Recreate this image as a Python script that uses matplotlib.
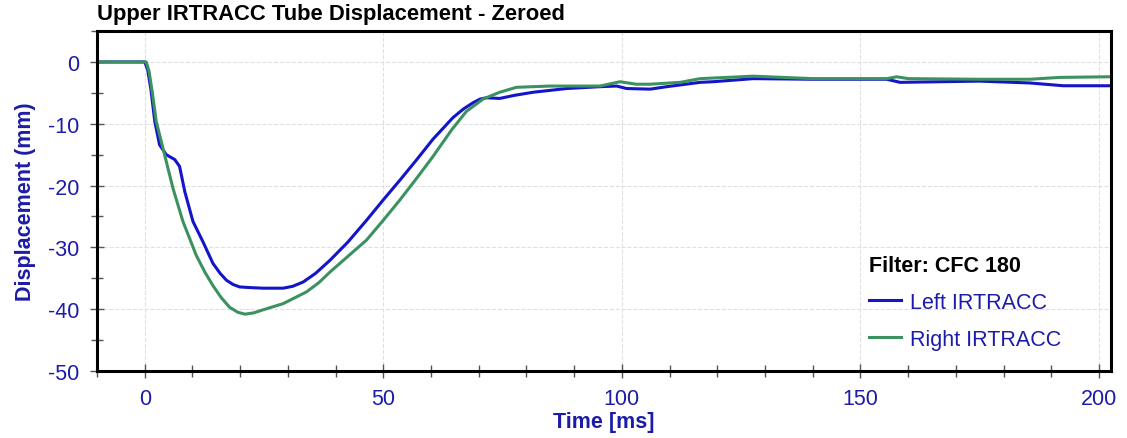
import matplotlib.pyplot as plt
from matplotlib.ticker import MultipleLocator

plt.rcParams['font.family'] = ['Liberation Sans', 'DejaVu Sans']
plt.rcParams['axes.unicode_minus'] = False

# Left IRTRACC (blue)
left_t = [-10, 0, 0.6, 1.3, 2.1, 3.1, 4.5, 6.3, 7.3, 8.4, 10.1, 12.2, 14.3, 15.8, 17.1,
          18.5, 19.9, 22.0, 24.8, 29, 31.0, 33.2, 35.8, 38.8, 42.5, 46.5, 50.0, 53.5,
          57.0, 60.4, 64.6, 66.8, 68.8, 70.3, 71.6, 74.4, 77.5, 81.4, 88.4, 95.4, 98.9,
          101, 105.9, 109.4, 116.4, 119.1, 127.5, 140.1, 155.5, 158.3, 175, 185.5,
          192.5, 202]
left_v = [0, 0, -1.2, -4.5, -9.6, -13.4, -15.0, -15.8, -16.9, -21.0, -25.8, -29.1,
          -32.6, -34.2, -35.3, -36.0, -36.4, -36.5, -36.6, -36.6, -36.3, -35.6, -34.2,
          -32.1, -29.2, -25.6, -22.3, -19.1, -15.8, -12.5, -9.0, -7.6, -6.6, -6.0,
          -5.8, -5.9, -5.4, -4.9, -4.3, -4.0, -3.9, -4.3, -4.4, -4.0, -3.3, -3.2, -2.7,
          -2.8, -2.8, -3.3, -3.1, -3.4, -3.85, -3.85]

# Right IRTRACC (green)
right_t = [-10, 0.3, 0.9, 1.6, 2.4, 3.8, 5.9, 8.0, 10.8, 12.6, 14.3, 16.0, 17.8, 19.5,
           21, 22.8, 24.8, 29, 33.9, 36.5, 38.8, 42.5, 46.5, 50.0, 53.5, 57.0, 60.4,
           64.3, 67.4, 70.9, 74.4, 77.9, 84.9, 95.4, 99.6, 103, 105.9, 112.2, 116.4,
           127.5, 140.1, 155.5, 157.6, 160, 175, 185.5, 191.8, 202]
right_v = [0, 0, -1.5, -5.0, -9.6, -13.9, -20.4, -25.8, -31.3, -34.0, -36.2, -38.1,
           -39.7, -40.5, -40.8, -40.6, -40.1, -39.1, -37.2, -35.7, -34.0, -31.5, -28.8,
           -25.6, -22.3, -18.8, -15.3, -11.0, -8.0, -6.0, -4.9, -4.1, -3.9, -3.9, -3.2,
           -3.6, -3.6, -3.3, -2.7, -2.3, -2.7, -2.7, -2.4, -2.7, -2.8, -2.8, -2.5, -2.4]

txt = '#1c1ca8'

fig = plt.figure(figsize=(11.27, 4.39), dpi=100)
ax = fig.add_axes([0.0861, 0.1526, 0.8997, 0.7744])

ax.plot(left_t, left_v, color='#1414c8', lw=2.2, label='Left IRTRACC')
ax.plot(right_t, right_v, color='#3c9160', lw=2.2, label='Right IRTRACC')

ax.set_xlim(-10, 202.5)
ax.set_ylim(-50, 5)
ax.xaxis.set_major_locator(MultipleLocator(50))
ax.xaxis.set_minor_locator(MultipleLocator(10))
ax.yaxis.set_major_locator(MultipleLocator(10))
ax.yaxis.set_minor_locator(MultipleLocator(5))
ax.grid(True, which='major', color='#e0e0e0', ls='--', lw=0.8)

ax.tick_params(which='both', direction='inout', colors='#555555',
               labelcolor=txt, labelsize=15.5, width=1)
ax.tick_params(which='major', length=10)
ax.tick_params(which='minor', length=8)
ax.tick_params(axis='x', pad=7)
ax.tick_params(axis='y', pad=8)

for s in ax.spines.values():
    s.set_linewidth(2.2)
    s.set_color('black')

ax.set_xlabel('Time [ms]', color=txt, fontsize=15.5, fontweight='bold', labelpad=2)
ax.set_ylabel('Displacement (mm)', color=txt, fontsize=15.5, fontweight='bold', labelpad=8)
fig.text(0.0861, 0.942, 'Upper IRTRACC Tube Displacement - Zeroed',
         fontsize=15.8, fontweight='bold', color='black', ha='left', va='bottom')

leg = ax.legend(loc='upper left', bbox_to_anchor=(0.753, 0.368), frameon=False,
                title='Filter: CFC 180', alignment='left', fontsize=15.5,
                labelcolor=txt, handlelength=1.5, handletextpad=0.4,
                labelspacing=0.75, borderaxespad=0)
leg.get_title().set_fontweight('bold')
leg.get_title().set_fontsize(15.5)

fig.savefig('out.png', dpi=100)
